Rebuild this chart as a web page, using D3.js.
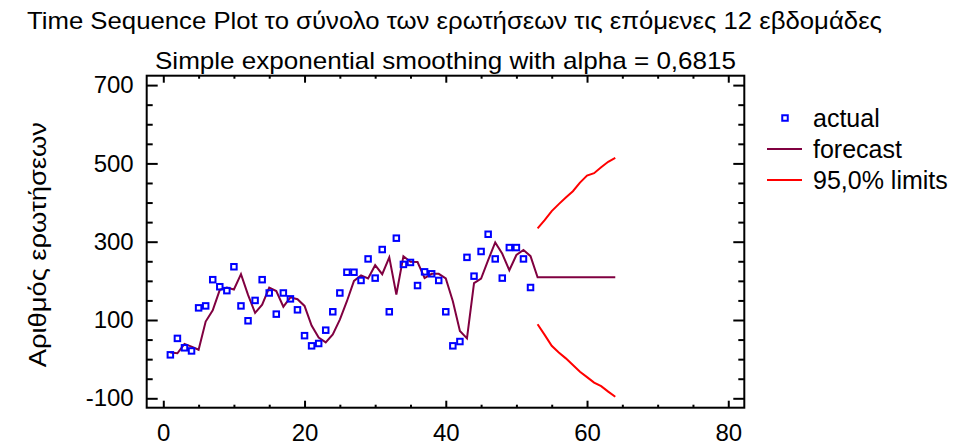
<!DOCTYPE html>
<html>
<head>
<meta charset="utf-8">
<script src="https://cdn.jsdelivr.net/npm/d3@7"></script>
<style>
body { margin: 0; background: #fff; }
svg text { font-family: "Liberation Sans", Arial, sans-serif; fill: #000; }
</style>
</head>
<body>
<svg width="957" height="447"></svg>
<script>
// weekly totals (periods 1..52)
var actual = [11, 53, 29, 21, 131, 136, 203, 185, 175, 236, 136, 98, 150, 203, 169, 115,
              169, 154, 126, 60, 34, 40, 74, 121, 169, 222, 222, 201, 256, 207, 280, 121,
              309, 242, 247, 188, 223, 218, 201, 121, 34, 45, 260, 212, 275, 319, 256, 207,
              285, 285, 256, 183];

// smoothed / forecast values (periods 1..64)
var forecast = [17, 15, 39, 32, 24, 96, 125, 177, 183, 178, 217, 164, 118, 139, 183, 174,
                134, 158, 153, 136, 86, 55, 43, 63, 101, 148, 200, 214, 206, 240, 217, 260,
                165, 263, 249, 248, 207, 218, 218, 206, 148, 72, 53, 194, 206, 253, 298, 269,
                227, 266, 279, 263, 209, 209, 209, 209, 209, 209, 209, 209, 209, 209, 209, 209];

// 95% limits (periods 53..64)
var upper = [334, 355, 378, 396, 413, 429, 451, 469, 475, 490, 504, 514];
var lower = [89, 62, 34, 17, 2, -15, -32, -46, -60, -69, -83, -96];
var firstForecastPeriod = 53;

var xTicks = [0, 20, 40, 60, 80];
var yTicks = [-100, 100, 300, 500, 700];
var legendNames = ["actual", "forecast", "95,0% limits"];

var titleText = "Time Sequence Plot το σύνολο των ερωτήσεων τις επόμενες 12 εβδομάδες";
var subtitleText = "Simple exponential smoothing with alpha = 0,6815";
var yLabel = "Αριθμός ερωτήσεων";

var svg = d3.select("svg");
var margin = {top: 75.7, left: 146.7};
var width = 597.6, height = 332;

var g = svg.append("g")
  .attr("transform", "translate(" + margin.left + "," + margin.top + ")");

var x = d3.scaleLinear().domain([-2.35, 82.27]).range([0, width]);
var y = d3.scaleLinear().domain([-124, 724]).range([height, 0]);

var forecastColor = "#800040";
var limitColor = "#ff0000";
var plain = function(d) { return String(d); };

// minor ticks
function minors(scale, step, majors) {
  var d = scale.domain(), out = [];
  for (var v = Math.ceil(d[0] / step) * step; v <= d[1]; v += step) {
    if (majors.indexOf(v) < 0) out.push(v);
  }
  return out;
}
var xMinor = minors(x, 5, xTicks);
var yMinor = minors(y, 50, yTicks);

function styleAxis(sel) {
  sel.select(".domain").remove();
  sel.selectAll("line").attr("stroke", "#000").attr("stroke-width", 2);
  sel.selectAll("text").style("font-size", "24px").style("font-family", "'Liberation Sans', Arial, sans-serif");
}

// bottom
g.append("g").attr("transform", "translate(0," + height + ")")
  .call(d3.axisBottom(x).tickValues(xTicks).tickSize(-7).tickPadding(16.5).tickFormat(plain))
  .call(styleAxis);
g.append("g").attr("transform", "translate(0," + height + ")")
  .call(d3.axisBottom(x).tickValues(xMinor).tickSize(-3).tickFormat(""))
  .call(styleAxis);
// top
g.append("g")
  .call(d3.axisTop(x).tickValues(xTicks).tickSize(-7).tickFormat(""))
  .call(styleAxis);
g.append("g")
  .call(d3.axisTop(x).tickValues(xMinor).tickSize(-3).tickFormat(""))
  .call(styleAxis);
// left
g.append("g")
  .call(d3.axisLeft(y).tickValues(yTicks).tickSize(-11).tickPadding(13).tickFormat(plain))
  .call(styleAxis);
g.append("g")
  .call(d3.axisLeft(y).tickValues(yMinor).tickSize(-6).tickFormat(""))
  .call(styleAxis);
// right
g.append("g").attr("transform", "translate(" + width + ",0)")
  .call(d3.axisRight(y).tickValues(yTicks).tickSize(-11).tickFormat(""))
  .call(styleAxis);
g.append("g").attr("transform", "translate(" + width + ",0)")
  .call(d3.axisRight(y).tickValues(yMinor).tickSize(-6).tickFormat(""))
  .call(styleAxis);

// frame
g.append("rect")
  .attr("width", width).attr("height", height)
  .attr("fill", "none").attr("stroke", "#000").attr("stroke-width", 2);

// forecast line
var line = d3.line()
  .x(function(d, i) { return x(i + 1); })
  .y(function(d) { return y(d); });

g.append("path")
  .datum(forecast)
  .attr("fill", "none")
  .attr("stroke", forecastColor)
  .attr("stroke-width", 2)
  .attr("d", line);

// limits
var limLine = d3.line()
  .x(function(d, i) { return x(firstForecastPeriod + i); })
  .y(function(d) { return y(d); });

g.selectAll(".limit")
  .data([upper, lower])
  .enter().append("path")
  .attr("class", "limit")
  .attr("fill", "none")
  .attr("stroke", limitColor)
  .attr("stroke-width", 2)
  .attr("d", limLine);

// actual points
var sq = 5.5;
g.selectAll(".point")
  .data(actual)
  .enter().append("rect")
  .attr("class", "point")
  .attr("x", function(d, i) { return x(i + 1) - sq / 2; })
  .attr("y", function(d) { return y(d) - sq / 2; })
  .attr("width", sq).attr("height", sq)
  .attr("fill", "none")
  .attr("stroke", "#0000ff")
  .attr("stroke-width", 2);

// titles
svg.append("text")
  .attr("x", 27).attr("y", 29)
  .style("font-size", "24px")
  .attr("textLength", 855).attr("lengthAdjust", "spacingAndGlyphs")
  .text(titleText);

svg.append("text")
  .attr("x", margin.left + width / 2).attr("y", 69)
  .attr("text-anchor", "middle")
  .style("font-size", "24px")
  .attr("textLength", 581).attr("lengthAdjust", "spacingAndGlyphs")
  .text(subtitleText);

svg.append("text")
  .attr("transform", "translate(46," + (margin.top + height / 2 + 3) + ") rotate(-90)")
  .attr("text-anchor", "middle")
  .style("font-size", "24px")
  .attr("textLength", 245).attr("lengthAdjust", "spacingAndGlyphs")
  .text(yLabel);

// legend
var legend = svg.append("g").attr("transform", "translate(767,118)");
var lg = legend.selectAll(".key")
  .data(legendNames)
  .enter().append("g")
  .attr("class", "key")
  .attr("transform", function(d, i) { return "translate(0," + (i * 31) + ")"; });

lg.filter(function(d, i) { return i === 0; })
  .append("rect")
  .attr("x", 18 - sq / 2).attr("y", -sq / 2)
  .attr("width", sq).attr("height", sq)
  .attr("fill", "none").attr("stroke", "#0000ff").attr("stroke-width", 2);

lg.filter(function(d, i) { return i > 0; })
  .append("line")
  .attr("x1", 0).attr("x2", 35)
  .attr("stroke", function(d, i) { return i === 0 ? forecastColor : limitColor; })
  .attr("stroke-width", 2);

lg.append("text")
  .attr("x", 46).attr("y", 8.5)
  .style("font-size", "25px")
  .text(function(d) { return d; });
</script>
</body>
</html>
